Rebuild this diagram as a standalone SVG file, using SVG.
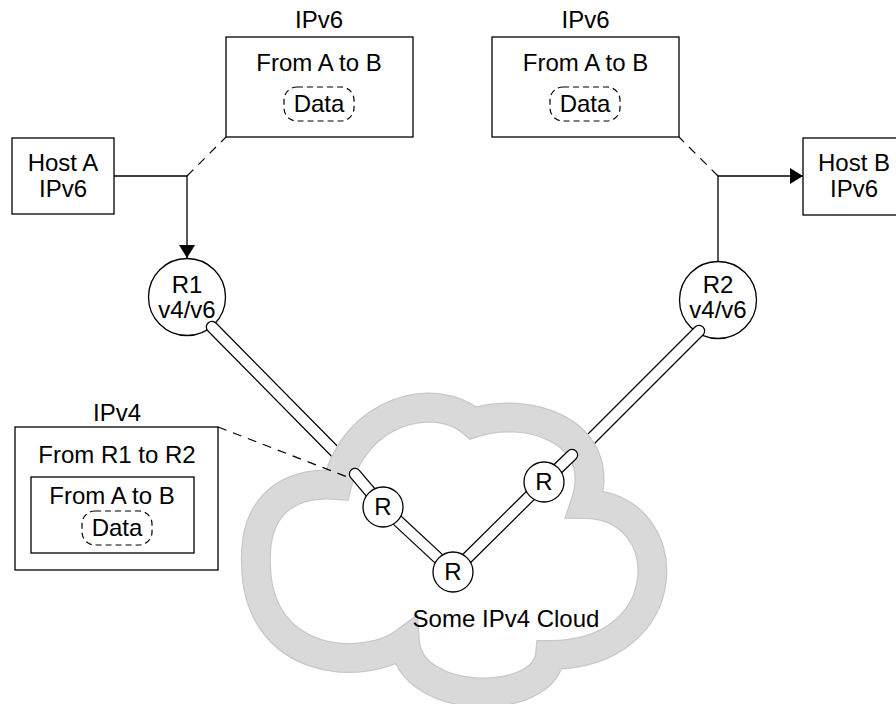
<svg xmlns="http://www.w3.org/2000/svg" width="896" height="704" viewBox="0 0 896 704">
  <style>
    text { font-family: "Liberation Sans", Arial, Helvetica, sans-serif; font-size: 24px; fill: #000; text-anchor: middle; }
    .box { fill: #fff; stroke: #000; stroke-width: 1.3; }
    .data { fill: none; stroke: #000; stroke-width: 1.2; stroke-dasharray: 6 4; }
    .line { fill: none; stroke: #000; stroke-width: 1.3; }
    .dash { fill: none; stroke: #000; stroke-width: 1.2; stroke-dasharray: 9 7; }
    .rt { fill: #fff; stroke: #000; stroke-width: 1.3; }
    .pipe-o { fill: none; stroke: #000; stroke-width: 12.5; stroke-linecap: round; stroke-linejoin: round; }
    .pipe-i { fill: none; stroke: #fff; stroke-width: 10; stroke-linecap: round; stroke-linejoin: round; }
  </style>
  <defs>
    <path id="cloud-path" d="M337,485 C355,410 435,390 473,423 C525,405 610,430 585,504 C680,505 680,655 550,655 C545,707 410,707 405,642 C365,672 258,667 256,565 C253,495 300,482 337,485 Z"/>
    <marker id="arrow" viewBox="0 0 13 16" refX="13" refY="8" markerWidth="13" markerHeight="16" markerUnits="userSpaceOnUse" orient="auto">
      <path d="M0,0 L13,8 L0,16 Z" fill="#000"/>
    </marker>
    <mask id="outside-cloud" maskUnits="userSpaceOnUse" x="0" y="0" width="896" height="704">
      <rect x="0" y="0" width="896" height="704" fill="#fff"/>
      <use href="#cloud-path" fill="#000" stroke="#000" stroke-width="30"/>
    </mask>
  </defs>

  <g id="cloud">
    <use href="#cloud-path" fill="none" stroke="#c8c8c8" stroke-width="30"/>
    <use href="#cloud-path" fill="none" stroke="#d9d9d9" stroke-width="27.5"/>
    <text x="506" y="627">Some IPv4 Cloud</text>
  </g>

  <g id="packet-ipv6-left">
    <text x="319" y="28">IPv6</text>
    <rect class="box" x="226" y="37" width="187" height="100"/>
    <text x="319" y="71">From A to B</text>
    <rect class="data" x="284" y="87" width="70" height="34" rx="13"/>
    <text x="319" y="112">Data</text>
  </g>

  <g id="packet-ipv6-right">
    <text x="585.5" y="28">IPv6</text>
    <rect class="box" x="492" y="37" width="187" height="100"/>
    <text x="585.5" y="71">From A to B</text>
    <rect class="data" x="550" y="87" width="70" height="34" rx="13"/>
    <text x="585" y="112">Data</text>
  </g>

  <g id="host-a">
    <rect class="box" x="12" y="138" width="102" height="76"/>
    <text x="63" y="171">Host A</text>
    <text x="63" y="197">IPv6</text>
  </g>

  <g id="host-b">
    <rect class="box" x="803" y="138" width="104" height="77"/>
    <text x="854" y="171">Host B</text>
    <text x="854" y="197">IPv6</text>
  </g>

  <g id="packet-ipv4">
    <text x="117" y="421">IPv4</text>
    <rect class="box" x="15" y="427" width="203" height="143"/>
    <text x="117" y="463">From R1 to R2</text>
    <rect class="box" x="31" y="477" width="163" height="76"/>
    <text x="112" y="504">From A to B</text>
    <rect class="data" x="82" y="511" width="70" height="34" rx="13"/>
    <text x="117" y="536">Data</text>
  </g>

  <g id="r1">
    <circle class="rt" cx="187" cy="297" r="38.5"/>
    <text x="187" y="293">R1</text>
    <text x="187" y="318">v4/v6</text>
  </g>

  <g id="r2">
    <circle class="rt" cx="718" cy="300" r="38.5"/>
    <text x="718" y="293">R2</text>
    <text x="718" y="318">v4/v6</text>
  </g>

  <g id="connectors">
    <polyline class="line" points="114,176 187,176 187,258" marker-end="url(#arrow)"/>
    <line class="dash" x1="187" y1="176" x2="226" y2="137"/>
    <polyline class="line" points="718,262 718,176 803,176" marker-end="url(#arrow)"/>
    <line class="dash" x1="718" y1="176" x2="679" y2="137"/>
    <g mask="url(#outside-cloud)">
      <line class="pipe-o" x1="212" y1="327" x2="352" y2="469"/>
      <line class="pipe-i" x1="212" y1="327" x2="352" y2="469"/>
      <line class="pipe-o" x1="699" y1="331" x2="575" y2="455"/>
      <line class="pipe-i" x1="699" y1="331" x2="575" y2="455"/>
    </g>
    <line class="dash" x1="218" y1="427" x2="350" y2="478"/>
    <polyline class="pipe-o" points="355,474 383,507 453,572 544,482 572,455"/>
    <polyline class="pipe-i" points="355,474 383,507 453,572 544,482 572,455"/>
  </g>

  <g id="router-a">
    <circle class="rt" cx="383" cy="507" r="20"/>
    <text x="383" y="515">R</text>
  </g>
  <g id="router-b">
    <circle class="rt" cx="453" cy="572" r="20"/>
    <text x="453" y="580">R</text>
  </g>
  <g id="router-c">
    <circle class="rt" cx="544" cy="482" r="20"/>
    <text x="544" y="490">R</text>
  </g>
</svg>
